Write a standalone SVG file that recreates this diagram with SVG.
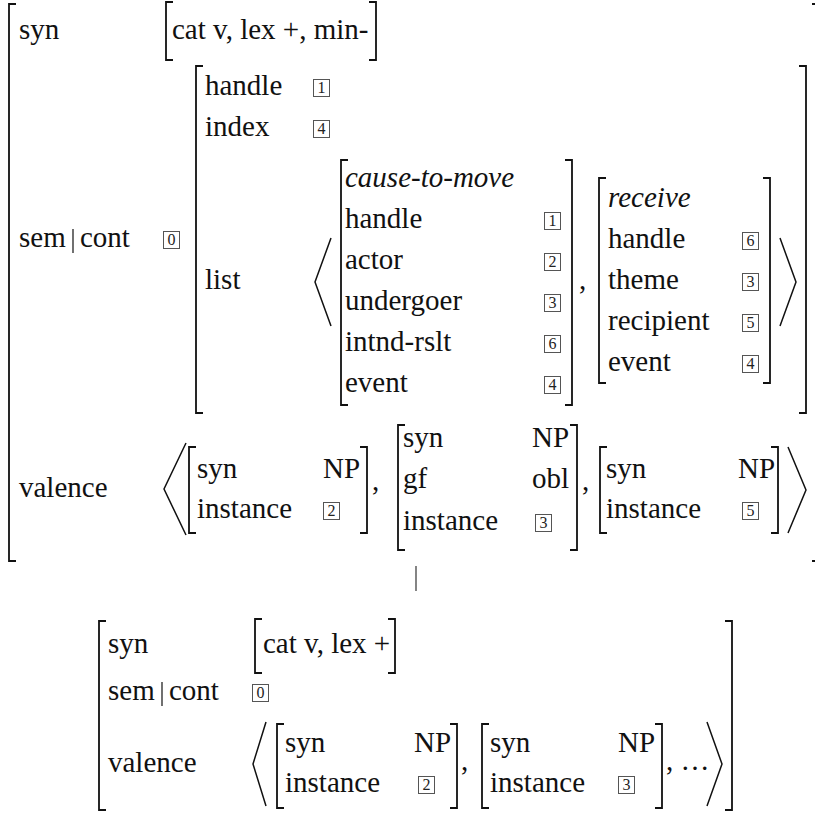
<svg xmlns="http://www.w3.org/2000/svg" width="815" height="813" viewBox="0 0 815 813">
<style>
.t{font-family:"Liberation Serif","Times New Roman",serif;font-size:29px;fill:#111}
.i{font-style:italic}
.br{fill:none;stroke:#111;stroke-width:1.8}
.ang{fill:none;stroke:#111;stroke-width:1.5}
.bar{stroke:#111;stroke-width:1.2}
.bx rect{fill:#fff;stroke:#555;stroke-width:1}
.bx text{font-family:"Liberation Serif","Times New Roman",serif;font-size:16px;fill:#222;text-anchor:middle}
.conn{stroke:#333;stroke-width:1.2}
</style>
<defs>
<g id="b0" class="bx"><rect x="0.5" y="0.5" width="16" height="17"/><text x="8.5" y="14">0</text></g>
<g id="b1" class="bx"><rect x="0.5" y="0.5" width="16" height="17"/><text x="8.5" y="14">1</text></g>
<g id="b2" class="bx"><rect x="0.5" y="0.5" width="16" height="17"/><text x="8.5" y="14">2</text></g>
<g id="b3" class="bx"><rect x="0.5" y="0.5" width="16" height="17"/><text x="8.5" y="14">3</text></g>
<g id="b4" class="bx"><rect x="0.5" y="0.5" width="16" height="17"/><text x="8.5" y="14">4</text></g>
<g id="b5" class="bx"><rect x="0.5" y="0.5" width="16" height="17"/><text x="8.5" y="14">5</text></g>
<g id="b6" class="bx"><rect x="0.5" y="0.5" width="16" height="17"/><text x="8.5" y="14">6</text></g>
</defs>

<g id="top-avm">
  <!-- outer brackets -->
  <path class="br" d="M16 4 H9 V561 H16"/>
  <path class="br" d="M812 4 H819 V561 H812"/>
  <!-- syn row -->
  <text class="t" x="19" y="39">syn</text>
  <path class="br" d="M173 2 H166 V60 H173"/>
  <text class="t" x="172" y="39">cat v, lex +, min-</text>
  <path class="br" d="M369 2 H376 V60 H369"/>
  <!-- sem|cont row -->
  <text class="t" x="19" y="247">sem</text>
  <line class="bar" x1="73" y1="229" x2="73" y2="253"/>
  <text class="t" x="80" y="247">cont</text>
  <use href="#b0" x="163" y="231"/>
  <path class="br" d="M203 66 H196 V413 H203"/>
  <path class="br" d="M799 66 H806 V413 H799"/>
  <text class="t" x="205" y="95">handle</text>
  <use href="#b1" x="313" y="79"/>
  <text class="t" x="205" y="136">index</text>
  <use href="#b4" x="313" y="120"/>
  <text class="t" x="205" y="289">list</text>
  <path class="ang" d="M331 238 L315 282 L331 326"/>
  <!-- cause-to-move -->
  <path class="br" d="M348 160 H341 V405 H348"/>
  <text class="t i" x="345" y="187">cause-to-move</text>
  <text class="t" x="345" y="228">handle</text>
  <use href="#b1" x="544" y="212"/>
  <text class="t" x="345" y="269">actor</text>
  <use href="#b2" x="544" y="253"/>
  <text class="t" x="345" y="310">undergoer</text>
  <use href="#b3" x="544" y="294"/>
  <text class="t" x="345" y="351">intnd-rslt</text>
  <use href="#b6" x="544" y="335"/>
  <text class="t" x="345" y="392">event</text>
  <use href="#b4" x="544" y="376"/>
  <path class="br" d="M565 160 H572 V405 H565"/>
  <text class="t" x="579" y="289">,</text>
  <!-- receive -->
  <path class="br" d="M606 178 H599 V383 H606"/>
  <text class="t i" x="608" y="207">receive</text>
  <text class="t" x="608" y="248">handle</text>
  <use href="#b6" x="742" y="232"/>
  <text class="t" x="608" y="289">theme</text>
  <use href="#b3" x="742" y="273"/>
  <text class="t" x="608" y="330">recipient</text>
  <use href="#b5" x="742" y="314"/>
  <text class="t" x="608" y="371">event</text>
  <use href="#b4" x="742" y="355"/>
  <path class="br" d="M763 178 H770 V383 H763"/>
  <path class="ang" d="M780 238 L796 282 L780 326"/>
  <!-- valence row -->
  <text class="t" x="19" y="497">valence</text>
  <path class="ang" d="M186 443 L164 489 L186 535"/>
  <path class="br" d="M196 447 H189 V533 H196"/>
  <text class="t" x="197" y="478">syn</text>
  <text class="t" x="323" y="478">NP</text>
  <text class="t" x="197" y="518">instance</text>
  <use href="#b2" x="323" y="502"/>
  <path class="br" d="M360 447 H367 V533 H360"/>
  <text class="t" x="372" y="490">,</text>
  <path class="br" d="M405 425 H398 V550 H405"/>
  <text class="t" x="403" y="447">syn</text>
  <text class="t" x="532" y="447">NP</text>
  <text class="t" x="403" y="488">gf</text>
  <text class="t" x="532" y="488">obl</text>
  <text class="t" x="403" y="530">instance</text>
  <use href="#b3" x="535" y="514"/>
  <path class="br" d="M570 425 H577 V550 H570"/>
  <text class="t" x="582" y="490">,</text>
  <path class="br" d="M607 447 H600 V533 H607"/>
  <text class="t" x="606" y="478">syn</text>
  <text class="t" x="738" y="478">NP</text>
  <text class="t" x="606" y="518">instance</text>
  <use href="#b5" x="742" y="502"/>
  <path class="br" d="M771 447 H778 V533 H771"/>
  <path class="ang" d="M788 447 L806 490 L788 533"/>
</g>

<g id="connectors">
  <line class="conn" x1="416" y1="566" x2="416" y2="591"/>
</g>

<g id="bottom-avm">
  <path class="br" d="M106 621 H99 V810 H106"/>
  <path class="br" d="M725 621 H732 V810 H725"/>
  <text class="t" x="108" y="653">syn</text>
  <path class="br" d="M262 619 H255 V673 H262"/>
  <text class="t" x="263" y="653">cat v, lex +</text>
  <path class="br" d="M388 619 H395 V673 H388"/>
  <text class="t" x="108" y="700">sem</text>
  <line class="bar" x1="162" y1="682" x2="162" y2="706"/>
  <text class="t" x="169" y="700">cont</text>
  <use href="#b0" x="252" y="684"/>
  <text class="t" x="108" y="772">valence</text>
  <path class="ang" d="M266 722 L253 764 L266 806"/>
  <path class="br" d="M284 724 H277 V808 H284"/>
  <text class="t" x="285" y="752">syn</text>
  <text class="t" x="414" y="752">NP</text>
  <text class="t" x="285" y="792">instance</text>
  <use href="#b2" x="418" y="776"/>
  <path class="br" d="M450 724 H457 V808 H450"/>
  <text class="t" x="461" y="770">,</text>
  <path class="br" d="M489 724 H482 V808 H489"/>
  <text class="t" x="490" y="752">syn</text>
  <text class="t" x="618" y="752">NP</text>
  <text class="t" x="490" y="792">instance</text>
  <use href="#b3" x="618" y="776"/>
  <path class="br" d="M655 724 H662 V808 H655"/>
  <text class="t" x="666" y="770">, …</text>
  <path class="ang" d="M707 722 L722 764 L707 806"/>
</g>
</svg>
